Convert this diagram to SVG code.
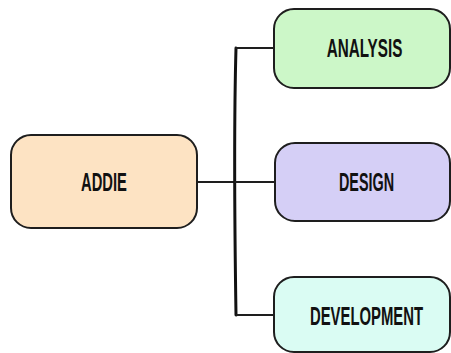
<svg xmlns="http://www.w3.org/2000/svg" width="451" height="353" viewBox="0 0 451 353">
  <style>
    .box { stroke: #1e1e1e; stroke-width: 2; }
    .label { font-family: "Liberation Sans", Arial, sans-serif; font-weight: bold; font-size: 25px; fill: #111; text-anchor: middle; dominant-baseline: central; }
    .link { fill: none; stroke: #1e1e1e; stroke-width: 2; stroke-linecap: round; stroke-linejoin: round; }
    .spine { fill: none; stroke: #111; stroke-width: 3; stroke-linecap: round; }
  </style>
  <rect width="451" height="353" fill="#ffffff"/>

  <g id="connectors">
    <path class="link" d="M197 182 H235"/>
    <path class="spine" d="M236 48 C234 120 235 250 236 315"/>
    <path class="link" d="M236 48 H274"/>
    <path class="link" d="M235 182 H275"/>
    <path class="link" d="M237 315 H274"/>
  </g>

  <!-- labels are set in a narrowed bold face: horizontal scale only -->
  <g id="addie">
    <rect class="box" x="11" y="135" width="186" height="93" rx="20" fill="#fde3c3"/>
    <text class="label" transform="translate(104 182) scale(0.59 1)">ADDIE</text>
  </g>

  <g id="analysis">
    <rect class="box" x="274" y="9" width="176" height="79" rx="20" fill="#ccf7c8"/>
    <text class="label" transform="translate(364.5 48) scale(0.61 1)">ANALYSIS</text>
  </g>

  <g id="design">
    <rect class="box" x="275" y="143" width="175" height="78" rx="20" fill="#d5cff6"/>
    <text class="label" transform="translate(366.5 182) scale(0.575 1)">DESIGN</text>
  </g>

  <g id="development">
    <rect class="box" x="274" y="277" width="176" height="75" rx="20" fill="#dafcf3"/>
    <text class="label" transform="translate(366.5 315.5) scale(0.595 1)">DEVELOPMENT</text>
  </g>
</svg>
